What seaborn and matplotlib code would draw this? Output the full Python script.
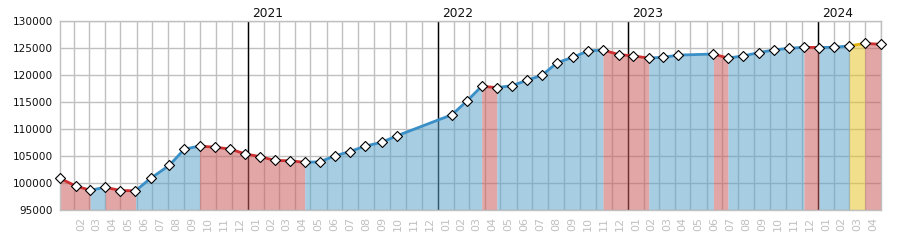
import pandas as pd
import matplotlib
matplotlib.use("Agg")
import matplotlib.pyplot as plt
import matplotlib.ticker as mticker
import matplotlib.dates as mdates
import seaborn as sns

# ---------------- data ----------------
dates = [
    "2020-01-06", "2020-02-05", "2020-03-04", "2020-04-02", "2020-05-01", "2020-05-30",
    "2020-06-28", "2020-08-03", "2020-09-01", "2020-09-30", "2020-10-30", "2020-11-28",
    "2020-12-27", "2021-01-25", "2021-02-22", "2021-03-23", "2021-04-20", "2021-05-19",
    "2021-06-17", "2021-07-16", "2021-08-14", "2021-09-15", "2021-10-14", "2022-01-28",
    "2022-02-26", "2022-03-26", "2022-04-24", "2022-05-23", "2022-06-21", "2022-07-20",
    "2022-08-18", "2022-09-17", "2022-10-16", "2022-11-14", "2022-12-14", "2023-01-11",
    "2023-02-10", "2023-03-10", "2023-04-08", "2023-06-14", "2023-07-12", "2023-08-10",
    "2023-09-09", "2023-10-08", "2023-11-06", "2023-12-05", "2024-01-03", "2024-02-01",
    "2024-03-01", "2024-03-31", "2024-05-01",
]
values = [
    100900, 99500, 98700, 99250, 98650, 98600,
    100900, 103300, 106300, 106850, 106650, 106300,
    105400, 104900, 104200, 104150, 103850, 103950,
    105050, 105850, 106850, 107550, 108750, 112650,
    115200, 117900, 117650, 118000, 119000, 119950,
    122250, 123250, 124400, 124600, 123750, 123500,
    123100, 123250, 123650, 123850, 123100, 123500,
    124100, 124600, 124900, 125100, 125050, 125100,
    125350, 125800, 125650,
]
# trend of each segment between consecutive points
trend = [
    "fall", "fall", "rise", "fall", "fall", "rise",
    "rise", "rise", "rise", "fall", "fall", "fall",
    "fall", "fall", "fall", "fall", "rise", "rise",
    "rise", "rise", "rise", "rise", "rise", "rise",
    "rise", "fall", "rise", "rise", "rise", "rise",
    "rise", "rise", "rise", "fall", "fall", "fall",
    "rise", "rise", "rise", "fall", "rise", "rise",
    "rise", "rise", "rise", "fall", "rise", "rise",
    "hold", "fall",
]
year_labels = ["2021", "2022", "2023", "2024"]
y_ticks = [95000, 100000, 105000, 110000, 115000, 120000, 125000, 130000]
first_month, last_month = "2020-02-01", "2024-04-01"

fill_colors = {"fall": "#cc5b5b", "rise": "#5da3cc", "hold": "#e7c42b"}
line_colors = {"fall": "#cc3030", "rise": "#3a8fc6", "hold": "#e3b20f"}
grid_c = "#c0c0c0"

# ---------------- figure ----------------
sns.set_theme(style="white")
plt.rcParams["font.family"] = ["DejaVu Sans"]

fig = plt.figure(figsize=(9, 2.5), dpi=100)
ax = fig.add_axes([60 / 900, 39.7 / 250, 821 / 900, 189.6 / 250])

df = pd.DataFrame({"date": pd.to_datetime(dates), "value": values})
ymin, ymax = y_ticks[0], y_ticks[-1]

# segments long table
rows = []
for i, t in enumerate(trend):
    for j in (i, i + 1):
        rows.append({"date": df.date[j], "value": df.value[j], "trend": t, "seg": i})
seg = pd.DataFrame(rows)

# fills: group consecutive runs of same trend
runs = []
start = 0
for i in range(1, len(trend) + 1):
    if i == len(trend) or trend[i] != trend[start]:
        runs.append((start, i, trend[start]))
        start = i
for s, e, t in runs:
    part = df.iloc[s:e + 1]
    ax.fill_between(part.date, part.value, ymin, color=fill_colors[t], alpha=0.54,
                    lw=0, zorder=1, antialiased=False)

# year lines
for y in year_labels:
    d = pd.Timestamp(f"{y}-01-01")
    ax.axvline(d, color="black", lw=1, zorder=0.8)
    ax.annotate(y, xy=(d, 1), xycoords=("data", "axes fraction"), xytext=(3, 2.6),
                textcoords="offset points", ha="left", va="baseline",
                fontsize=8.8, color="#111111")

sns.lineplot(data=seg, x="date", y="value", hue="trend", units="seg", estimator=None,
             palette=line_colors, linewidth=2, legend=False, ax=ax, sort=False,
             solid_capstyle="round")
for ln in ax.get_lines():
    if ln.get_linewidth() == 2:
        ln.set_zorder(3)
sns.scatterplot(data=df, x="date", y="value", marker="D", s=26, color="white",
                edgecolor="black", linewidth=0.8, ax=ax, zorder=5, clip_on=False)

# axes
ax.set_xlim(df.date.iloc[0], df.date.iloc[-1])
ax.set_ylim(ymin, ymax)
ax.set_yticks(y_ticks)
ax.set_yticklabels([str(v) for v in y_ticks])
ax.set_xlabel("")
ax.set_ylabel("")

month_starts = pd.date_range(first_month, last_month, freq="MS")
month_bounds = pd.date_range(first_month, pd.Timestamp(last_month) + pd.offsets.MonthBegin(1), freq="MS")
mids = [month_bounds[k] + (month_bounds[k + 1] - month_bounds[k]) / 2 for k in range(len(month_starts))]
ax.xaxis.set_major_locator(mticker.FixedLocator([mdates.date2num(m) for m in mids]))
ax.xaxis.set_major_formatter(mticker.FixedFormatter([m.strftime("%m") for m in month_starts]))
ax.xaxis.set_minor_locator(mticker.FixedLocator([mdates.date2num(m) for m in month_bounds]))

ax.tick_params(axis="x", which="both", length=0, pad=4.5, labelsize=8, labelcolor=grid_c,
               labelrotation=90)
ax.tick_params(axis="y", length=0, pad=5, labelsize=7.6, labelcolor="#111111")

ax.set_axisbelow(True)
ax.grid(False)
ax.grid(True, which="minor", axis="x", color=grid_c, lw=1)
ax.grid(True, which="major", axis="y", color=grid_c, lw=1)

for sp in ax.spines.values():
    sp.set_visible(True)
    sp.set_color(grid_c)
    sp.set_linewidth(1)

fig.savefig("out.png", dpi=100)
